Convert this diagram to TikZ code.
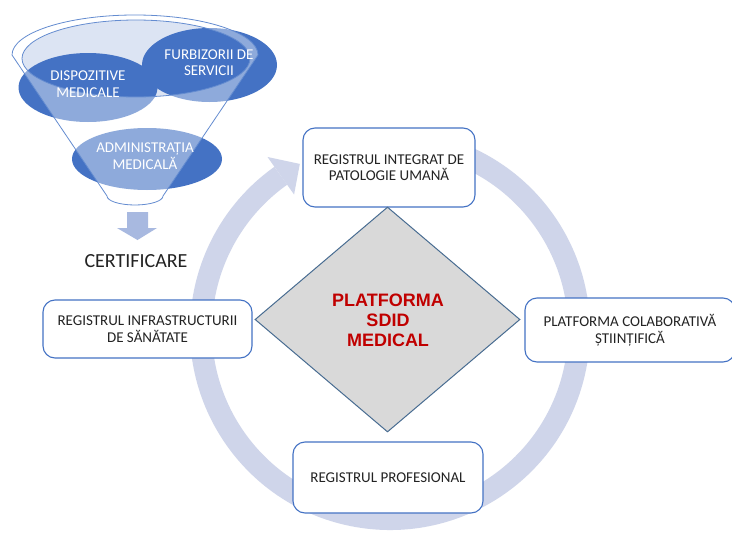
\documentclass[tikz,border=0pt]{standalone}
\usepackage{fontspec}
\setmainfont{Carlito}
\newfontfamily\arialfont{Liberation Sans}
\usetikzlibrary{shapes.geometric,calc}
\definecolor{boxblue}{RGB}{68,114,196}
\definecolor{ringcol}{RGB}{207,213,234}
\definecolor{ellblue}{RGB}{68,114,196}
\definecolor{openfill}{RGB}{220,228,243}
\definecolor{funline}{RGB}{100,140,208}
\definecolor{downcol}{RGB}{168,185,224}
\definecolor{diafill}{RGB}{217,217,217}
\definecolor{diaedge}{RGB}{72,108,145}
\definecolor{darkred}{RGB}{192,0,0}
\definecolor{txt}{RGB}{35,35,35}
\tikzset{
  regbox/.style={draw=boxblue, line width=1.1pt, fill=white, rounded corners=12pt, align=center, text=txt, inner sep=0pt, font=\fontsize{15}{16.5}\selectfont},
  ellnode/.style={ellipse, fill=ellblue, inner sep=0pt},
  elltext/.style={text=white, align=center, inner sep=0pt, font=\fontsize{15}{16.5}\selectfont},
}
\begin{document}
\begin{tikzpicture}[x=1pt,y=1pt]
\clip (0,0) rectangle (732,-533);
\fill[white] (0,0) rectangle (732,-533);
% ring arrow
\coordinate (rc) at (390,-330);
\draw[ringcol, line width=22pt] ($(rc)+(80:189)$) arc[start angle=80, end angle=-234.7, radius=189];
\fill[ringcol] ($(rc)+(125.3:212)$) -- ($(rc)+(118.5:189)$) -- ($(rc)+(125.3:166)$) -- cycle;
% funnel
\fill[openfill] (136,-58.5) ellipse[x radius=114, y radius=38.5];
\node[ellnode, minimum width=139pt, minimum height=69pt] (e1) at (88,-87.5) {};
\node[ellnode, minimum width=135pt, minimum height=74pt] (e2) at (209.5,-65) {};
\node[ellnode, minimum width=150pt, minimum height=62pt] (e3) at (147,-159) {};
\fill[white, fill opacity=0.4, even odd rule]
  (12,-55) -- (107,-196) arc[start angle=180, end angle=360, x radius=28, y radius=9]
  -- (258,-55) arc[start angle=0, end angle=180, x radius=123, y radius=40] -- cycle
  (136,-58.5) ellipse[x radius=114, y radius=38.5];
\draw[funline, line width=0.8pt]
  (12,-55) -- (107,-196) arc[start angle=180, end angle=360, x radius=28, y radius=9]
  -- (258,-55) arc[start angle=0, end angle=180, x radius=123, y radius=40] -- cycle;
\draw[funline, line width=0.8pt] (136,-58.5) ellipse[x radius=114, y radius=38.5];
\node[elltext] (t1) at (88,-84) {DISPOZITIVE\\MEDICALE};
\node[elltext] (t2) at (209,-62.5) {FURBIZORII DE\\SERVICII};
\node[elltext] (t3) at (145,-156) {ADMINISTRAȚIA\\MEDICALĂ};
% down arrow
\fill[downcol] (127,-212) -- (148,-212) -- (148,-228) -- (157,-228) -- (137.5,-240) -- (117,-228) -- (127,-228) -- cycle;
\node[text=txt, inner sep=0pt, font=\fontsize{20}{22}\selectfont] (cert) at (136,-261) {CERTIFICARE};
% boxes
\node[regbox, minimum width=172pt, minimum height=79pt] (top) at (389,-167.5) {REGISTRUL INTEGRAT DE\\PATOLOGIE UMANĂ};
\node[regbox, minimum width=210pt, minimum height=64pt] (right) at (630,-330) {PLATFORMA COLABORATIVĂ\\ȘTIINȚIFICĂ};
\node[regbox, minimum width=209pt, minimum height=58pt] (left) at (147.5,-329) {REGISTRUL INFRASTRUCTURII\\DE SĂNĂTATE};
\node[regbox, minimum width=190pt, minimum height=71pt] (bottom) at (388,-477.5) {REGISTRUL PROFESIONAL};
% diamond
\node[diamond, draw=diaedge, line width=1pt, fill=diafill, minimum width=265pt, minimum height=225pt, inner sep=0pt, aspect=1.18] (dia) at (387.5,-319.5) {};
\node[text=darkred, align=center, inner sep=0pt, font=\arialfont\bfseries\fontsize{18}{20}\selectfont] (diat) at (388,-320) {PLATFORMA\\SDID\\MEDICAL};
\end{tikzpicture}
\end{document}
